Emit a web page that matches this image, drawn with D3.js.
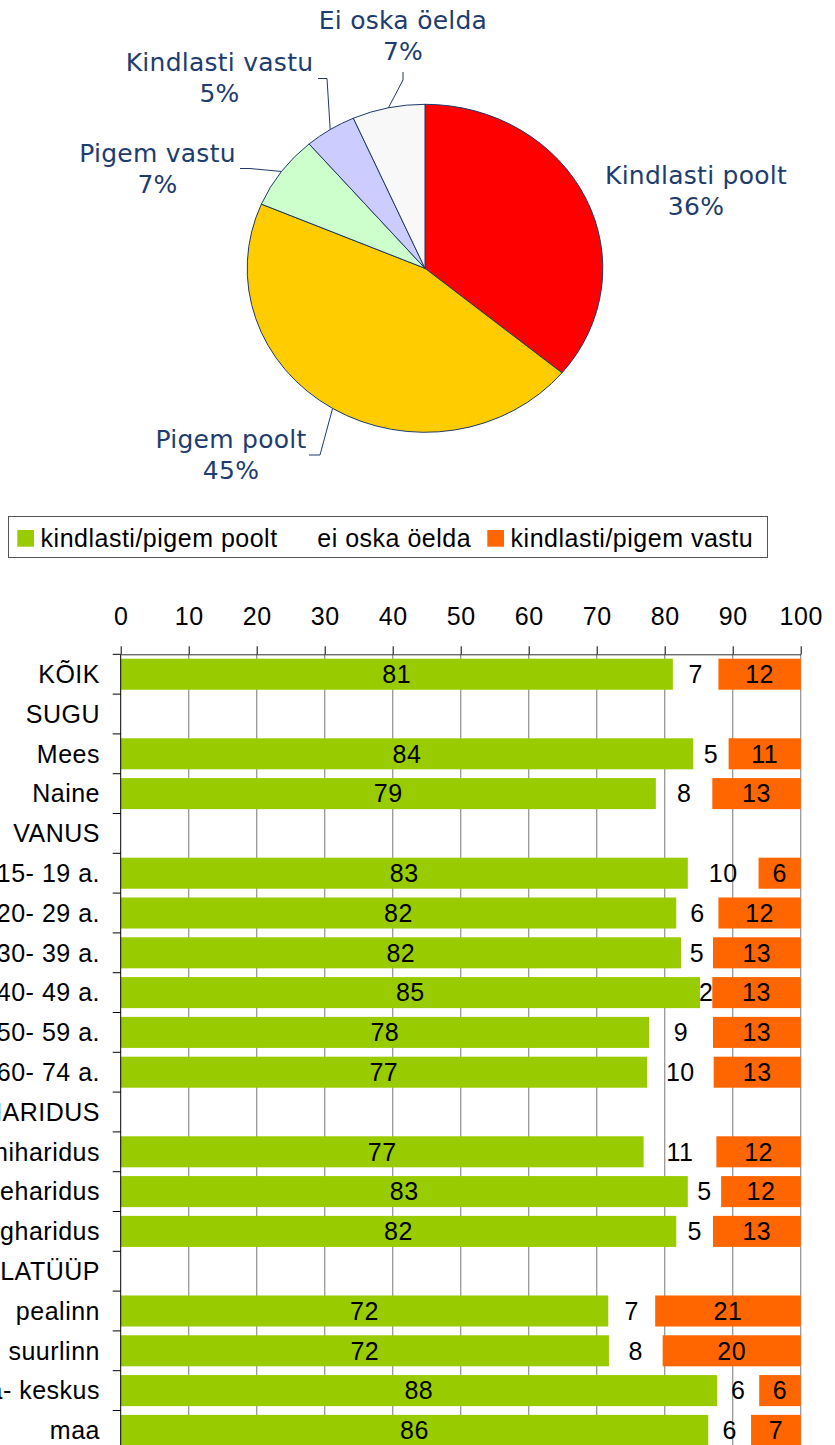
<!DOCTYPE html>
<html lang="et">
<head>
<meta charset="UTF-8">
<title>Kindlasti poolt / vastu</title>
<script src="https://d3js.org/d3.v7.min.js"></script>
<style>
  body { margin: 0; background: #fff; }
  svg { display: block; }
  .pie-label { font-family: "DejaVu Sans", sans-serif; font-size: 25px; letter-spacing: 0.25px; fill: #1e3c6e; }
  .bar-text { font-family: "Liberation Sans", Arial, sans-serif; font-size: 25px; letter-spacing: 0.5px; fill: #000; }
</style>
</head>
<body>
<div id="chart"></div>
<script>
// --- pie data ---
const pieLabels = ["Kindlasti poolt", "Pigem poolt", "Pigem vastu", "Kindlasti vastu", "Ei oska öelda"];
const pieValues = [36.0, 45.4, 7.3, 4.7, 6.6];
const pieColors = ["#ff0000", "#ffcc00", "#ccffcc", "#ccccff", "#f8f8f8"];

// --- bar data ---
const categories = ["KÕIK", "SUGU", "Mees", "Naine", "VANUS",
    "15- 19 a.", "20- 29 a.", "30- 39 a.", "40- 49 a.", "50- 59 a.", "60- 74 a.",
    "HARIDUS", "põhiharidus", "kesk-/kutseharidus", "kõrgharidus",
    "ASULATÜÜP", "pealinn", "suurlinn", "maakonna- keskus", "maa"];
const poolt  = [81.2, null, 84.2, 78.7, null, 83.4, 81.7, 82.4, 85.2, 77.7, 77.4, null, 76.9, 83.4, 81.7, null, 71.7, 71.8, 87.7, 86.4];
const eiOska = [6.7, null, 5.2, 8.3, null, 10.4, 6.2, 4.7, 1.8, 9.4, 9.8, null, 10.7, 4.9, 5.4, null, 6.9, 7.9, 6.2, 6.3];
const vastu  = [12.1, null, 10.6, 13.0, null, 6.2, 12.1, 12.9, 13.0, 12.9, 12.8, null, 12.4, 11.7, 12.9, null, 21.4, 20.3, 6.1, 7.3];
const legendLabels = ["kindlasti/pigem poolt", "ei oska öelda", "kindlasti/pigem vastu"];
const barColors = ["#99cc00", "none", "#ff6600"];
const xTicks = d3.range(0, 101, 10);

const svg = d3.select("#chart").append("svg")
    .attr("width", 835)
    .attr("height", 1445);

// ---------- pie (drawn a bit flattened, like the original) ----------
const cx = 425, cy = 268.3, rx = 177.8, ry = 164;
const arcs = d3.pie().sort(null).value(d => d)(pieValues);
const arc = d3.arc().innerRadius(0).outerRadius(rx);

svg.append("g")
    .attr("transform", `translate(${cx},${cy}) scale(1,${ry / rx})`)
    .selectAll("path")
    .data(arcs)
    .enter().append("path")
    .attr("d", arc)
    .attr("fill", (d, i) => pieColors[i])
    .attr("stroke", "#1f3a68")
    .attr("stroke-width", 1)
    .attr("vector-effect", "non-scaling-stroke");

// label placement + leader elbows (layout only)
const pieLayout = [
    { x: 696, y: 184, elbow: null },
    { x: 231, y: 448, elbow: [[320, 455], [309, 455]] },
    { x: 157.5, y: 161.7, elbow: [[250, 168.5], [240, 168.5]] },
    { x: 219.5, y: 71, elbow: [[327, 78.5], [318, 78.5]] },
    { x: 403, y: 29, elbow: [[403, 80], [403, 72]] }
];

arcs.forEach((a, i) => {
    const L = pieLayout[i];
    if (L.elbow) {
        const m = (a.startAngle + a.endAngle) / 2;
        const pts = [[cx + rx * Math.sin(m), cy - ry * Math.cos(m)]].concat(L.elbow);
        svg.append("path")
            .attr("d", d3.line()(pts))
            .attr("fill", "none")
            .attr("stroke", "#1f3a68")
            .attr("stroke-width", 1);
    }
    const t = svg.append("text")
        .attr("class", "pie-label")
        .attr("text-anchor", "middle");
    t.append("tspan").attr("x", L.x).attr("y", L.y).text(pieLabels[i]);
    t.append("tspan").attr("x", L.x).attr("y", L.y + 31).text(Math.round(a.data) + "%");
});

// ---------- legend ----------
svg.append("rect")
    .attr("x", 8.5).attr("y", 516.5)
    .attr("width", 759).attr("height", 41)
    .attr("fill", "#fff")
    .attr("stroke", "#555")
    .attr("stroke-width", 1);

const legendX = [17.3, 294, 487.3];
legendLabels.forEach((l, i) => {
    if (barColors[i] !== "none") {
        svg.append("rect")
            .attr("x", legendX[i]).attr("y", 530)
            .attr("width", 16.7).attr("height", 16.7)
            .attr("fill", barColors[i]);
    }
    svg.append("text")
        .attr("class", "bar-text")
        .attr("x", legendX[i] + 23.3)
        .attr("y", 546.5)
        .text(l);
});

// ---------- bars ----------
const plotTop = 654.3, step = 39.8;
const x = d3.scaleLinear().domain([0, 100]).range([120.7, 800.7]);
const y = d3.scaleBand()
    .domain(categories)
    .range([plotTop, plotTop + categories.length * step])
    .paddingInner(0.22)
    .paddingOuter(0.11);

// vertical grid
svg.append("g").selectAll("line")
    .data(xTicks.filter(v => v > 0))
    .enter().append("line")
    .attr("x1", d => x(d)).attr("x2", d => x(d))
    .attr("y1", plotTop).attr("y2", 1445)
    .attr("stroke", "#999")
    .attr("stroke-width", 1.3);

const rows = categories.map((c, i) => ({ cat: c, poolt: poolt[i], eiOska: eiOska[i], vastu: vastu[i] }))
    .filter(r => r.poolt != null);
const series = d3.stack().keys(["poolt", "eiOska", "vastu"])(rows);

series.forEach((s, k) => {
    if (barColors[k] === "none") return;
    svg.append("g").selectAll("rect")
        .data(s)
        .enter().append("rect")
        .attr("x", d => x(d[0]))
        .attr("y", d => y(d.data.cat))
        .attr("width", d => x(d[1]) - x(d[0]))
        .attr("height", y.bandwidth())
        .attr("fill", barColors[k]);
});

// value labels
series.forEach(s => {
    svg.append("g").selectAll("text")
        .data(s)
        .enter().append("text")
        .attr("class", "bar-text")
        .attr("text-anchor", "middle")
        .attr("x", d => (x(d[0]) + x(d[1])) / 2)
        .attr("y", d => y(d.data.cat) + y.bandwidth() / 2 + 8.7)
        .text(d => Math.round(d[1] - d[0]));
});

// top axis
const xAxis = svg.append("g")
    .attr("transform", `translate(0,${plotTop})`)
    .call(d3.axisTop(x).tickValues(xTicks).tickSize(8).tickSizeOuter(0).tickPadding(21))
    .attr("font-size", null)
    .attr("font-family", null);
xAxis.select(".domain").attr("stroke", "#333");
xAxis.selectAll(".tick line").attr("stroke", "#000");
xAxis.selectAll(".tick text").attr("class", "bar-text").attr("fill", null);

// left axis with ticks at row boundaries
svg.append("line")
    .attr("x1", x(0)).attr("x2", x(0))
    .attr("y1", plotTop).attr("y2", 1445)
    .attr("stroke", "#000");
svg.append("g").selectAll("line")
    .data(d3.range(categories.length + 1))
    .enter().append("line")
    .attr("x1", x(0) - 8).attr("x2", x(0))
    .attr("y1", d => plotTop + d * step).attr("y2", d => plotTop + d * step)
    .attr("stroke", "#000");

// category labels
svg.append("g").selectAll("text")
    .data(categories)
    .enter().append("text")
    .attr("class", "bar-text")
    .attr("text-anchor", "end")
    .attr("x", 100)
    .attr("y", d => y(d) + y.bandwidth() / 2 + 8.7)
    .text(d => d);
</script>
</body>
</html>
